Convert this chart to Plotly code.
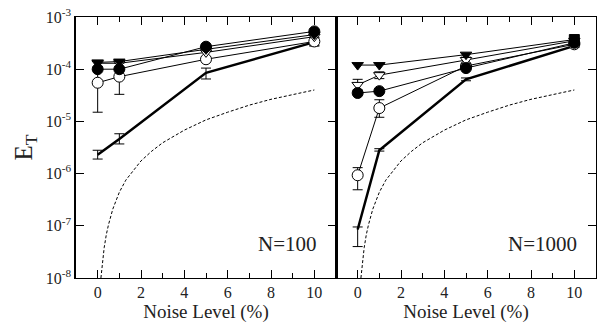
import plotly.graph_objects as go

noise = [0, 1, 5, 10]

# N=100 panel
fc_100 = [1.0e-4, 1.0e-4, 2.7e-4, 5.3e-4]
ft_100 = [1.35e-4, 1.4e-4, 2.4e-4, 4.6e-4]
ot_100 = [1.3e-4, 1.3e-4, 2.1e-4, 4.2e-4]
oc_100 = [5.5e-5, 7.2e-5, 1.55e-4, 3.4e-4]
oc_100_hi = [1.1e-4, 1.3e-4, 1.7e-4, 4.1e-4]
oc_100_lo = [1.5e-5, 3.3e-5, 1.4e-4, 2.8e-4]
th_100 = [2.3e-6, 4.6e-6, 8.5e-5, 3.3e-4]
th_100_hi = [2.8e-6, 5.8e-6, 1.05e-4, 4.0e-4]
th_100_lo = [1.9e-6, 3.7e-6, 6.5e-5, 2.8e-4]

# N=1000 panel
ft_1000 = [1.2e-4, 1.2e-4, 1.9e-4, 3.7e-4]
ft_1000_sym = ["triangle-down", "triangle-down", "triangle-down", "square"]
ot_1000 = [5.0e-5, 7.7e-5, 1.5e-4, 3.5e-4]
ot_1000_hi = [6.4e-5, 8.9e-5, 1.7e-4, 3.8e-4]
ot_1000_lo = [4.0e-5, 6.6e-5, 1.3e-4, 3.2e-4]
fc_1000 = [3.5e-5, 3.8e-5, 1.05e-4, 3.2e-4]
oc_1000 = [9.3e-7, 1.8e-5, 1.15e-4, 3.0e-4]
oc_1000_hi = [1.3e-6, 2.6e-5, 1.3e-4, 3.3e-4]
oc_1000_lo = [4.9e-7, 1.2e-5, 1.0e-4, 2.7e-4]
th_1000 = [8.5e-8, 2.8e-6, 6.4e-5, 2.8e-4]
th_1000_hi = [9.5e-8, 3.0e-6, 6.8e-5, 3.0e-4]
th_1000_lo = [4.0e-8, 2.7e-6, 6.0e-5, 2.6e-4]

# dashed reference curve (same on both panels)
curve_x = [0.15, 0.2, 0.3, 0.4, 0.5, 0.7, 1, 1.3, 1.6, 2, 2.5, 3, 4, 5, 6, 7, 8, 9, 10]
curve_y = [1.0e-8, 1.7e-8, 3.8e-8, 6.8e-8, 1.05e-7, 2.1e-7, 4.4e-7, 7.5e-7, 1.1e-6,
           1.75e-6, 2.7e-6, 3.9e-6, 6.8e-6, 1.07e-5, 1.5e-5, 2.05e-5, 2.65e-5, 3.3e-5, 4.0e-5]

ytickvals = [1e-8, 1e-7, 1e-6, 1e-5, 1e-4, 1e-3]
yticktext = ["10<sup>-8</sup>", "10<sup>-7</sup>", "10<sup>-6</sup>", "10<sup>-5</sup>",
             "10<sup>-4</sup>", "10<sup>-3</sup>"]

FONT = "Liberation Serif"
fig = go.Figure()


def err(vals, hi, lo):
    return dict(type="data", symmetric=False,
                array=[h - v for h, v in zip(hi, vals)],
                arrayminus=[v - l for v, l in zip(vals, lo)],
                color="black", thickness=1, width=5)


def add(xa, ya, y, symbol, filled, size=10, error=None, lw=1, mode="lines+markers"):
    fig.add_trace(go.Scatter(
        x=noise, y=y, xaxis=xa, yaxis=ya, mode=mode,
        line=dict(color="black", width=lw),
        marker=dict(symbol=symbol, size=size,
                    color="black" if filled else "white",
                    line=dict(color="black", width=1)),
        error_y=error, showlegend=False))


# left panel
fig.add_trace(go.Scatter(x=curve_x, y=curve_y, xaxis="x", yaxis="y", mode="lines",
                         line=dict(color="black", width=1, dash="3px,2px"), showlegend=False))
add("x", "y", th_100, "circle", True, error=err(th_100, th_100_hi, th_100_lo), lw=2.5, mode="lines")
add("x", "y", oc_100, "circle", False, size=11, error=err(oc_100, oc_100_hi, oc_100_lo))
add("x", "y", ot_100, "triangle-down", False)
add("x", "y", ft_100, "triangle-down", True)
add("x", "y", fc_100, "circle", True, size=11)

# right panel
fig.add_trace(go.Scatter(x=curve_x, y=curve_y, xaxis="x2", yaxis="y2", mode="lines",
                         line=dict(color="black", width=1, dash="3px,2px"), showlegend=False))
add("x2", "y2", th_1000, "circle", True, error=err(th_1000, th_1000_hi, th_1000_lo), lw=2.5, mode="lines")
add("x2", "y2", oc_1000, "circle", False, size=11, error=err(oc_1000, oc_1000_hi, oc_1000_lo))
add("x2", "y2", ot_1000, "triangle-down", False, error=err(ot_1000, ot_1000_hi, ot_1000_lo))
add("x2", "y2", fc_1000, "circle", True, size=11)
add("x2", "y2", ft_1000, ft_1000_sym, True)

xcommon = dict(range=[-1, 11], tickvals=[0, 2, 4, 6, 8, 10], ticks="inside", ticklen=8,
               tickcolor="black", showline=True, linecolor="black", linewidth=1.3,
               mirror="ticks", showgrid=False, zeroline=False, automargin=False,
               minor=dict(tickvals=[1, 3, 5, 7, 9], ticks="inside", ticklen=5, tickcolor="black"),
               tickfont=dict(family=FONT, size=16, color="#222"),
               title=dict(text="Noise Level (%)", font=dict(family=FONT, size=19, color="#222"),
                          standoff=4))

fig.update_layout(
    width=597, height=325,
    margin=dict(l=76, r=1, t=17, b=47),
    paper_bgcolor="white", plot_bgcolor="white",
    xaxis=dict(domain=[0, 0.5], anchor="y", **xcommon),
    xaxis2=dict(domain=[0.5, 1], anchor="y2", **xcommon),
    yaxis=dict(type="log", range=[-8, -3], tickvals=ytickvals, ticktext=yticktext,
               ticks="inside", ticklen=8, tickcolor="black", showline=True,
               linecolor="black", linewidth=1.5, mirror="ticks", showgrid=False,
               zeroline=False, automargin=False,
               tickfont=dict(family=FONT, size=16, color="#222"),
               title=dict(text="E<sub>T</sub>", font=dict(family=FONT, size=25, color="#222"),
                          standoff=6)),
    yaxis2=dict(type="log", range=[-8, -3], anchor="x2", side="right", tickvals=ytickvals,
                showticklabels=False, ticks="inside", ticklen=8, tickcolor="black",
                showline=True, linecolor="black", linewidth=1.3, mirror=True,
                showgrid=False, zeroline=False, automargin=False),
    annotations=[
        dict(text="N=100", xref="x", yref="y", x=10.2, y=-7.35, xanchor="right",
             yanchor="middle", showarrow=False, font=dict(family=FONT, size=21, color="#222")),
        dict(text="N=1000", xref="x2", yref="y2", x=10.2, y=-7.35, xanchor="right",
             yanchor="middle", showarrow=False, font=dict(family=FONT, size=21, color="#222")),
    ],
)

fig.write_html("out.html", config={"displayModeBar": False},
               post_script="document.body.style.margin='0';")
